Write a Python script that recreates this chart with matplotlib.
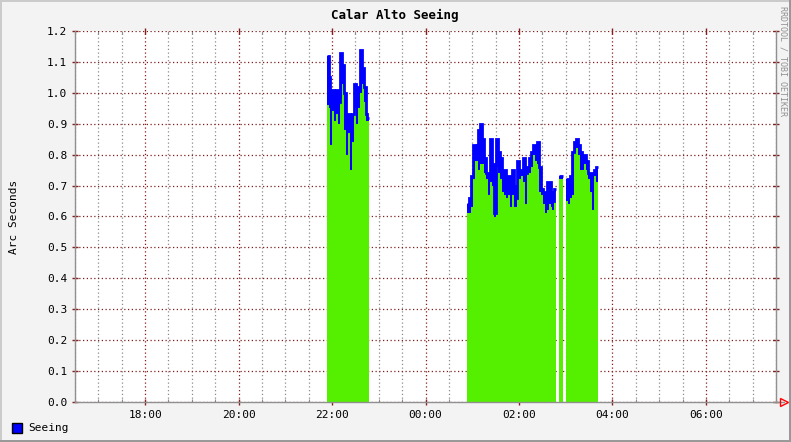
import matplotlib
matplotlib.use("Agg")
import matplotlib.pyplot as plt
import numpy as np
from matplotlib.patches import Rectangle
from matplotlib.ticker import MultipleLocator, FuncFormatter

plt.rcParams["font.family"] = ["DejaVu Sans Mono", "DejaVu Sans"]

# sample spacing of the seeing monitor (minutes)
STEP_MIN = 2.5

# seeing runs: start time, line value (blue) and area value (green), arcsec
run1_start = "21:53"
run1_seeing = [1.12, 1.05, 0.98, 1.01, 1.00, 1.01, 0.97, 1.13, 1.09, 1.00, 0.90,
               0.93, 0.90, 0.93, 1.03, 0.97, 1.02, 1.14, 1.08, 1.02, 0.93, 0.92]
run1_area = [0.96, 0.95, 0.83, 0.94, 0.91, 0.93, 0.90, 0.98, 1.03, 0.88, 0.80,
             0.87, 0.75, 0.84, 0.95, 0.90, 0.95, 1.00, 1.03, 0.97, 0.91, 0.91]

run2_start = "00:53"
run2_seeing = [0.64, 0.66, 0.73, 0.83, 0.80, 0.83, 0.88, 0.90, 0.85, 0.79, 0.74, 0.73,
               0.85, 0.77, 0.61, 0.85, 0.81, 0.79, 0.73, 0.75, 0.70, 0.73, 0.68, 0.75,
               0.70, 0.66, 0.78, 0.75, 0.74, 0.79, 0.74, 0.76, 0.79, 0.81, 0.83, 0.83,
               0.84, 0.76, 0.69, 0.68, 0.66, 0.71, 0.71, 0.68, 0.65, 0.69]
run2_area = [0.61, 0.61, 0.63, 0.72, 0.78, 0.78, 0.75, 0.77, 0.77, 0.74, 0.72, 0.67,
             0.71, 0.70, 0.60, 0.76, 0.74, 0.72, 0.68, 0.67, 0.66, 0.67, 0.63, 0.67,
             0.63, 0.63, 0.72, 0.72, 0.73, 0.71, 0.64, 0.74, 0.74, 0.76, 0.80, 0.78,
             0.77, 0.68, 0.67, 0.64, 0.61, 0.62, 0.64, 0.63, 0.62, 0.68]

run3_start = "02:51"
run3_seeing = [0.73, 0.73]
run3_area = [0.72, 0.72]

run4_start = "03:01"
run4_seeing = [0.72, 0.71, 0.73, 0.81, 0.84, 0.85, 0.83, 0.81, 0.78, 0.80, 0.78,
               0.74, 0.74, 0.74, 0.75, 0.76]
run4_area = [0.65, 0.64, 0.66, 0.67, 0.81, 0.82, 0.80, 0.75, 0.75, 0.77, 0.75,
             0.72, 0.68, 0.62, 0.73, 0.71]

runs = [
    (run1_start, run1_seeing, run1_area),
    (run2_start, run2_seeing, run2_area),
    (run3_start, run3_seeing, run3_area),
    (run4_start, run4_seeing, run4_area),
]

BACK = "#f3f3f3"
MGRID = "#821e1e"
GRID = "#8c8c8c"
GREEN = "#55f000"
BLUE = "#0000ff"


def to_minutes(hhmm):
    """Minutes relative to midnight; evening times become negative."""
    h, m = (int(v) for v in hhmm.split(":"))
    mins = h * 60 + m
    return mins - 1440 if h >= 12 else mins


def fmt_clock(x, _pos):
    mins = int(round(x)) % 1440
    return f"{mins // 60:02d}:{mins % 60:02d}"


W, H = 791, 442
fig = plt.figure(figsize=(W / 100, H / 100), dpi=100, facecolor=BACK)
ax = fig.add_axes([75 / W, (H - 402) / H, 701 / W, 371 / H], facecolor="white")

for start, seeing, area in runs:
    t0 = to_minutes(start)
    edges = t0 + STEP_MIN * np.arange(len(seeing) + 1)
    ax.stairs(area, edges, baseline=0, fill=True, color=GREEN, lw=0, zorder=2)
    ax.stairs(seeing, edges, baseline=area, fill=True, color=BLUE, lw=0, zorder=3)
    ax.stairs(seeing, edges, baseline=None, color=BLUE, lw=2, zorder=3)

ax.set_xlim(-450, 450)
ax.set_ylim(0, 1.2)
ax.yaxis.set_major_locator(MultipleLocator(0.1))
ax.yaxis.set_major_formatter(FuncFormatter(lambda v, p: f"{v:.1f}"))
ax.xaxis.set_major_locator(MultipleLocator(120))
ax.xaxis.set_minor_locator(MultipleLocator(30))
ax.xaxis.set_major_formatter(FuncFormatter(fmt_clock))

ax.grid(which="major", color=MGRID, ls=(0, (1, 2)), lw=0.9, zorder=1)
ax.grid(which="minor", axis="x", color=GRID, ls=(0, (1, 2)), lw=0.9, zorder=1)
ax.set_axisbelow(True)

ax.tick_params(axis="y", which="major", direction="inout", length=5, width=1,
               color=MGRID, right=True, labelsize=8, pad=3)
ax.tick_params(axis="x", which="major", direction="inout", length=5, width=1,
               color=MGRID, top=True, labelsize=8, pad=3)
ax.tick_params(axis="x", which="minor", direction="in", length=2, width=0.8,
               color=GRID, top=True)

for side in ("left", "right", "bottom"):
    ax.spines[side].set_color("#909090")
    ax.spines[side].set_linewidth(1)
ax.spines["top"].set_visible(False)

# x axis arrow at the right end
ax.plot([1.0, 1.011], [0, 0], transform=ax.transAxes, color="#909090", lw=1,
        clip_on=False, zorder=5)
ax.plot([1.011], [0], transform=ax.transAxes, marker=">", ms=6, mfc="none",
        mec="red", mew=1, clip_on=False, zorder=6)

ax.set_ylabel("Arc Seconds", fontsize=8)
ax.yaxis.set_label_coords(-56 / 701, 0.5)

fig.text(395 / W, 1 - 15 / H, "Calar Alto Seeing", ha="center", va="center",
         fontsize=9, fontweight="bold")
fig.text(783 / W, 1 - 6 / H, "RRDTOOL / TOBI OETIKER", ha="center", va="top",
         rotation=-90, fontsize=6, color="#909090")

# legend swatch
fig.patches.append(Rectangle((12 / W, 1 - 433 / H), 10 / W, 10 / H,
                             transform=fig.transFigure, facecolor=BLUE,
                             edgecolor="black", lw=1))
fig.text(28 / W, 1 - 428 / H, "Seeing", ha="left", va="center", fontsize=8)

# 3D style frame around the image
fig.patches.append(Rectangle((0, 1 - 2 / H), 1, 2 / H, transform=fig.transFigure,
                             facecolor="#cbcbcb", lw=0))
fig.patches.append(Rectangle((0, 0), 2 / W, 1, transform=fig.transFigure,
                             facecolor="#cbcbcb", lw=0))
fig.patches.append(Rectangle((0, 0), 1, 2 / H, transform=fig.transFigure,
                             facecolor="#999999", lw=0))
fig.patches.append(Rectangle((1 - 2 / W, 0), 2 / W, 1, transform=fig.transFigure,
                             facecolor="#999999", lw=0))

fig.savefig("out.png", dpi=100, facecolor=BACK)
